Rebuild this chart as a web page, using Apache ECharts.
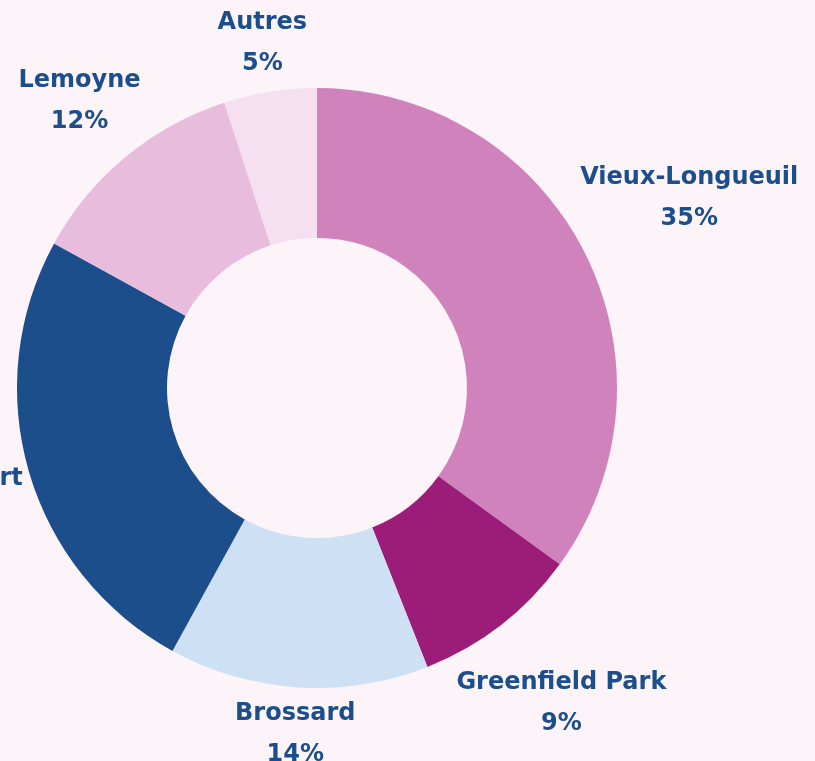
<!DOCTYPE html>
<html>
<head>
<meta charset="utf-8">
<script src="https://cdn.jsdelivr.net/npm/echarts@6/dist/echarts.min.js"></script>
<style>
  html, body { margin: 0; padding: 0; background: #fcf4f9; }
  #chart { width: 815px; height: 761px; }
</style>
</head>
<body>
<div id="chart"></div>
<script>
// data
const quartiers = ["Vieux-Longueuil", "Greenfield Park", "Brossard", "Saint-Hubert", "Lemoyne", "Autres"];
const parts = [35, 9, 14, 25, 12, 5];
const couleurs = ["#d082bd", "#9b1c79", "#cee0f4", "#1d4e8c", "#e7bcdc", "#f5e0ef"];

const cx = 317, cy = 388, r0 = 150, r1 = 300, gap = 2;
const total = parts.reduce((a, b) => a + b, 0);
let acc = 0;
const mids = parts.map(v => { const m = (acc + v / 2) / total * Math.PI * 2; acc += v; return m; });

const chart = echarts.init(document.getElementById("chart"));
chart.setOption({
  backgroundColor: "#fcf4f9",
  animation: false,
  series: [{
    type: "pie",
    center: [cx, cy],
    radius: [r0, r1],
    startAngle: 90,
    clockwise: true,
    avoidLabelOverlap: false,
    data: quartiers.map((n, i) => ({ name: n, value: parts[i], itemStyle: { color: couleurs[i] } })),
    label: {
      show: true,
      position: "inside",
      formatter: "{b}\n{c}%",
      color: "#1d4e8c",
      fontFamily: "DejaVu Sans",
      fontWeight: "bold",
      fontSize: 24,
      lineHeight: 41,
      overflow: "none"
    },
    labelLine: { show: false },
    labelLayout: (p) => {
      const a = mids[p.dataIndex];
      const vx = Math.sin(a), vy = -Math.cos(a);
      const w = p.labelRect.width, h = p.labelRect.height;
      const d = r1 + gap + w / 2 * Math.abs(vx) + h / 2 * Math.abs(vy);
      return { x: cx + d * vx, y: cy + d * vy, align: "center", verticalAlign: "middle" };
    }
  }]
});
window.addEventListener("resize", () => chart.resize());
</script>
</body>
</html>
